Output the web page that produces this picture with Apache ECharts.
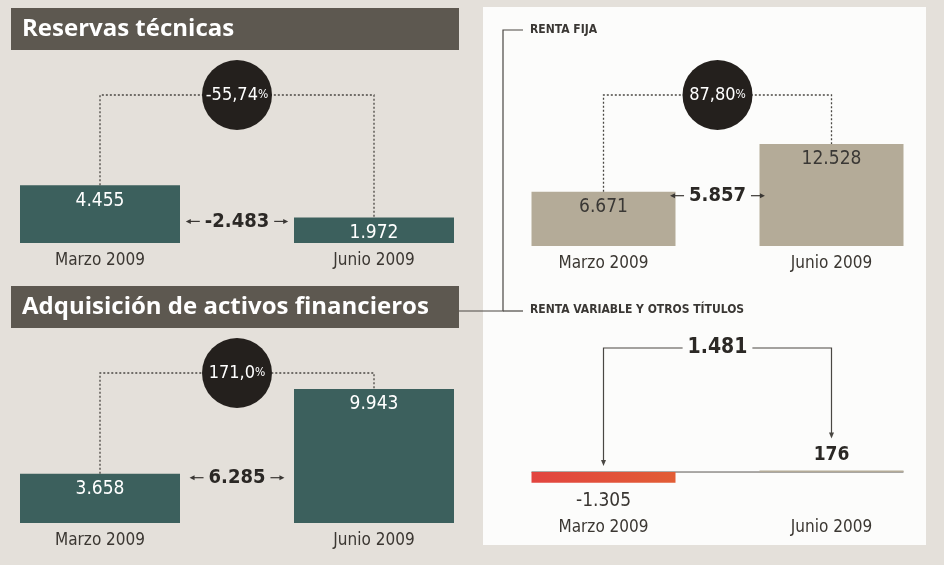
<!DOCTYPE html>
<html>
<head>
<meta charset="utf-8">
<script src="https://cdn.jsdelivr.net/npm/echarts@6/dist/echarts.min.js"></script>
<style>
  html, body { margin: 0; padding: 0; background: #e4e0da; }
  #chart { width: 944px; height: 565px; }
</style>
</head>
<body>
<div id="chart"></div>
<script>
// Periods and amounts (millones de pesos)
const periods = ['Marzo 2009', 'Junio 2009'];
const reservas = [4455, 1972];
const activos = [3658, 9943];
const rentaFija = [6671, 12528];
const rentaVariable = [-1305, 176];
// Printed percentage changes
const reservasPct = '-55,74';
const activosPct = '171,0';
const rentaFijaPct = '87,80';

const COND = '"DejaVu Sans Condensed","Liberation Sans Narrow","Roboto Condensed",Roboto,sans-serif';
const HEAD = '"Open Sans","Noto Sans",sans-serif';
const INK = '#2b2825';
const WHITE_PANEL = '#fcfcfb';

const measureCtx = document.createElement('canvas').getContext('2d');
function textWidth(text, font) { measureCtx.font = font; return measureCtx.measureText(text).width; }
function fmt(v) {
  return (v < 0 ? '-' : '') + String(Math.abs(v)).replace(/\B(?=(\d{3})+(?!\d))/g, '.');
}

const panels = [
  { values: reservas, pct: reservasPct, grid: { left: 100, width: 274, top: 95, height: 148 }, max: 11400,
    barWidth: 160, color: '#3c605d', labelColor: '#ffffff' },
  { values: activos, pct: activosPct, grid: { left: 100, width: 274, top: 373, height: 150 }, max: 11130,
    barWidth: 160, color: '#3c605d', labelColor: '#ffffff' },
  { values: rentaFija, pct: rentaFijaPct, grid: { left: 603.5, width: 228, top: 95, height: 151 }, max: 18550,
    barWidth: 144, color: '#b4ab98', labelColor: '#3a3835' }
];
const rv = { grid: { left: 603.5, width: 228, top: 348, height: 140.3 }, min: -2000, max: 15233, barWidth: 144 };

function arrow(x0, y, d, len) {
  const x1 = x0 + d * len;
  return [
    { type: 'line', shape: { x1: x0, y1: y, x2: x1 - d * 3, y2: y }, style: { stroke: '#3a3734', lineWidth: 1.2 } },
    { type: 'polygon', shape: { points: [[x1, y], [x1 - d * 5, y - 2.5], [x1 - d * 5, y + 2.5]] }, style: { fill: '#3a3734' } }
  ];
}

function comparison(p) {
  return function (params, api) {
    const a = api.coord([0, p.values[0]]);
    const b = api.coord([1, p.values[1]]);
    const top = api.coord([0, p.max])[1];
    const mid = (a[0] + b[0]) / 2;
    const diffText = fmt(p.values[1] - p.values[0]);
    const font = 'bold 20px ' + COND;
    const w = textWidth(diffText, font);
    const ly = Math.max(a[1], b[1]) + 4;
    const children = [
      { type: 'polyline', shape: { points: [a, [a[0], top], [b[0], top], b] },
        style: { stroke: '#4a4743', lineWidth: 1.3, lineDash: [2, 2], fill: null } },
      { type: 'circle', shape: { cx: mid, cy: top, r: 35 }, style: { fill: '#24201d' } },
      { type: 'text', style: { text: '{n|' + p.pct + '}{p|%}', x: mid, y: top, align: 'center', verticalAlign: 'middle',
        rich: { n: { fontSize: 18, fontFamily: COND, fill: '#ffffff' }, p: { fontSize: 12, fontFamily: COND, fill: '#ffffff' } } } },
      { type: 'text', style: { text: diffText, x: mid, y: ly, align: 'center', verticalAlign: 'middle', font: font, fill: INK } }
    ].concat(arrow(mid - w / 2 - 5, ly, -1, 14), arrow(mid + w / 2 + 5, ly, 1, 14));
    return { type: 'group', children: children };
  };
}

function variableBracket(params, api) {
  const z0 = api.coord([0, 0]);
  const z1 = api.coord([1, 0]);
  const b = api.coord([1, rentaVariable[1]]);
  const top = api.coord([0, rv.max])[1];
  const mid = (z0[0] + z1[0]) / 2;
  const half = rv.barWidth / 2;
  const endL = z0[1] - 6;
  const endR = b[1] - 32;
  return { type: 'group', children: [
    { type: 'line', shape: { x1: z0[0] - half, y1: z0[1], x2: z1[0] + half, y2: z1[1] },
      style: { stroke: '#5a5652', lineWidth: 1 } },
    { type: 'polyline', shape: { points: [[z0[0], endL - 4], [z0[0], top], [z1[0], top], [z1[0], endR - 4]] },
      style: { stroke: '#4a4743', lineWidth: 1.2, fill: null } },
    { type: 'polygon', shape: { points: [[z0[0], endL], [z0[0] - 2.5, endL - 6], [z0[0] + 2.5, endL - 6]] }, style: { fill: '#4a4743' } },
    { type: 'polygon', shape: { points: [[z1[0], endR], [z1[0] - 2.5, endR - 6], [z1[0] + 2.5, endR - 6]] }, style: { fill: '#4a4743' } },
    { type: 'text', style: { text: fmt(rentaVariable[1] - rentaVariable[0]), x: mid, y: top, align: 'center', verticalAlign: 'middle',
      font: 'bold 21px ' + COND, fill: INK, backgroundColor: WHITE_PANEL, padding: [0, 5] } }
  ] };
}

const grids = panels.map(p => p.grid).concat([rv.grid]);
const catAxis = (i, extra) => Object.assign({
  gridIndex: i, type: 'category', data: periods, boundaryGap: false,
  axisLine: { show: false }, axisTick: { show: false },
  axisLabel: { interval: 0, margin: 9, fontSize: 17, color: '#3b3732', fontFamily: COND }
}, extra || {});

const xAxes = panels.map((p, i) => catAxis(i)).concat([
  catAxis(3, { position: 'bottom', axisLine: { show: false, onZero: false },
    axisLabel: { interval: 0, margin: 31, fontSize: 17, color: '#3b3732', fontFamily: COND } })
]);
const yAxes = panels.map((p, i) => ({ gridIndex: i, type: 'value', min: 0, max: p.max, show: false }))
  .concat([{ gridIndex: 3, type: 'value', min: rv.min, max: rv.max, show: false }]);

const series = [];
panels.forEach((p, i) => {
  series.push({
    type: 'bar', xAxisIndex: i, yAxisIndex: i, data: p.values, barWidth: p.barWidth, clip: false,
    itemStyle: { color: p.color },
    label: { show: true, position: 'insideTop', distance: 6, fontSize: 19, fontFamily: COND, color: p.labelColor,
      formatter: d => fmt(d.value) }
  });
  series.push({
    type: 'custom', xAxisIndex: i, yAxisIndex: i, data: [[0, 0]], renderItem: comparison(p), silent: true, z: 3
  });
});
series.push({
  type: 'bar', xAxisIndex: 3, yAxisIndex: 3, barWidth: rv.barWidth, clip: false,
  data: [
    { value: rentaVariable[0],
      itemStyle: { color: new echarts.graphic.LinearGradient(0, 0, 1, 0, [{ offset: 0, color: '#e2443f' }, { offset: 1, color: '#e25d35' }]) },
      label: { position: 'bottom', distance: 9, fontWeight: 'normal', color: '#3a3632' } },
    { value: rentaVariable[1], itemStyle: { color: '#b4ab98' },
      label: { position: 'top', distance: 6, fontWeight: 'bold', color: INK } }
  ],
  label: { show: true, fontSize: 19, fontFamily: COND, formatter: d => fmt(d.value) }
});
series.push({ type: 'custom', xAxisIndex: 3, yAxisIndex: 3, data: [[0, 0]], renderItem: variableBracket, silent: true, z: 1 });

const graphic = [
  { type: 'rect', shape: { x: 483, y: 7, width: 443, height: 538 }, style: { fill: WHITE_PANEL }, z: -10 },
  { type: 'rect', shape: { x: 11, y: 8, width: 448, height: 42 }, style: { fill: '#5d5850' }, z: -5 },
  { type: 'text', style: { text: 'Reservas técnicas', x: 22, y: 29, verticalAlign: 'middle',
      font: 'bold 24px ' + HEAD, fill: '#ffffff' }, z: -4 },
  { type: 'rect', shape: { x: 11, y: 286, width: 448, height: 42 }, style: { fill: '#5d5850' }, z: -5 },
  { type: 'text', style: { text: 'Adquisición de activos financieros', x: 22, y: 307, verticalAlign: 'middle',
      font: 'bold 24px ' + HEAD, fill: '#ffffff' }, z: -4 },
  { type: 'polyline', shape: { points: [[523, 30], [503, 30], [503, 311], [459, 311]] },
    style: { stroke: '#4a4743', lineWidth: 1.2, fill: null }, z: -4 },
  { type: 'line', shape: { x1: 503, y1: 311, x2: 523, y2: 311 }, style: { stroke: '#4a4743', lineWidth: 1.2 }, z: -4 },
  { type: 'text', style: { text: 'RENTA FIJA', x: 530, y: 30, verticalAlign: 'middle',
      font: 'bold 12px ' + COND, fill: '#3a3734' }, z: -4 },
  { type: 'text', style: { text: 'RENTA VARIABLE Y OTROS TÍTULOS', x: 530, y: 310, verticalAlign: 'middle',
      font: 'bold 12px ' + COND, fill: '#3a3734' }, z: -4 }
];

const chart = echarts.init(document.getElementById('chart'));
chart.setOption({
  animation: false,
  backgroundColor: '#e4e0da',
  graphic: graphic,
  grid: grids,
  xAxis: xAxes,
  yAxis: yAxes,
  series: series
});
</script>
</body>
</html>
